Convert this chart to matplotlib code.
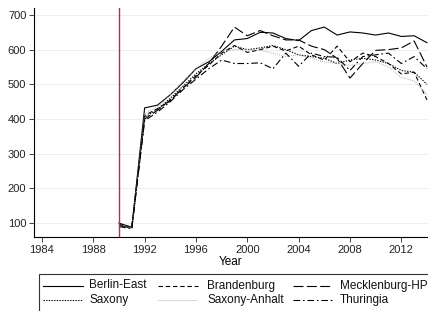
import matplotlib
matplotlib.use("Agg")
import matplotlib.pyplot as plt
from matplotlib.patches import Rectangle
from matplotlib.lines import Line2D

plt.rcParams['font.family'] = ['Liberation Sans', 'DejaVu Sans']

years = list(range(1990, 2015))
berlin = [100, 88, 432, 440, 470, 505, 545, 565, 595, 628, 632, 650, 648, 632, 626, 655, 665, 642, 651, 648, 642, 648, 638, 640, 620]
brandenburg = [98, 88, 410, 430, 452, 490, 525, 555, 590, 612, 592, 600, 610, 596, 610, 585, 570, 610, 565, 590, 580, 560, 530, 535, 455]
mecklenburg = [95, 85, 400, 425, 455, 490, 520, 560, 610, 665, 640, 655, 640, 628, 628, 610, 600, 575, 518, 560, 598, 600, 605, 625, 550]
saxony = [92, 86, 405, 428, 460, 495, 530, 560, 585, 610, 600, 605, 612, 600, 585, 580, 575, 560, 570, 575, 570, 560, 540, 535, 500]
saxony_anhalt = [96, 87, 415, 435, 470, 510, 545, 575, 595, 600, 600, 598, 590, 580, 585, 575, 565, 560, 555, 560, 565, 550, 520, 510, 470]
thuringia = [90, 84, 395, 420, 450, 485, 515, 545, 570, 560, 560, 562, 545, 590, 552, 590, 580, 578, 540, 580, 585, 590, 560, 580, 545]

labels = ['Berlin-East', 'Brandenburg', 'Mecklenburg-HP', 'Saxony', 'Saxony-Anhalt', 'Thuringia']
series = [berlin, brandenburg, mecklenburg, saxony, saxony_anhalt, thuringia]
styles = [
    dict(color='black', linestyle='-'),
    dict(color='black', linestyle=(0, (4, 2.5))),
    dict(color='black', linestyle=(0, (9, 3))),
    dict(color='black', linestyle=(0, (1.2, 1.2))),
    dict(color='#9a9a9a', linestyle=(0, (0.6, 1.2))),
    dict(color='black', linestyle=(0, (6, 2.5, 1.5, 2.5))),
]
xticks = [1984, 1988, 1992, 1996, 2000, 2004, 2008, 2012]
yticks = [100, 200, 300, 400, 500, 600, 700]

W, H = 428, 311
fig = plt.figure(figsize=(W/100, H/100), dpi=100)
ax = fig.add_axes([34/W, 1-237/H, (W-34)/W, (237-8)/H])

for v in yticks:
    ax.axhline(v, color='#eaf0f0', lw=0.8, zorder=0)

for s, lab, st in zip(series, labels, styles):
    ax.plot(years, s, lw=0.8, label=lab, **st)

ax.axvline(1990, color='#d81e4b', lw=1.0)

ax.set_xlim(1983.38, 2014.08)
ax.set_ylim(60, 720)
ax.set_xticks(xticks)
ax.set_yticks(yticks)
ax.tick_params(labelsize=8, length=3.5, width=0.6, pad=2, colors='#222222')
for sp in ['top', 'right']:
    ax.spines[sp].set_visible(False)
for sp in ['left', 'bottom']:
    ax.spines[sp].set_linewidth(0.8)
ax.set_xlabel('Year', fontsize=8.5, labelpad=0)
ax.xaxis.set_label_coords(0.5, -0.085)

# legend frame (cut off at right and bottom edges as in reference)
fig.patches.append(Rectangle((39/W, -0.05), 1.0, (1-273.5/H)+0.05, transform=fig.transFigure,
                             fill=False, edgecolor='#333333', lw=0.8))

def fx(x):
    return x / W

def fy(y):
    return 1 - y / H

handle_x = [(43, 83), (158, 198), (293, 332)]
text_x = [89, 207, 340]
row_y = [285.5, 300]
for i, (lab, st) in enumerate(zip(labels, styles)):
    r, c = divmod(i, 3)
    x0, x1 = handle_x[c]
    y = row_y[r]
    fig.lines.append(Line2D([fx(x0), fx(x1)], [fy(y), fy(y)], transform=fig.transFigure,
                            lw=0.8, **st))
    fig.text(fx(text_x[c]), fy(y), lab, fontsize=8.5, va='center', ha='left', color='#111111')

fig.savefig('out.png', dpi=100)
